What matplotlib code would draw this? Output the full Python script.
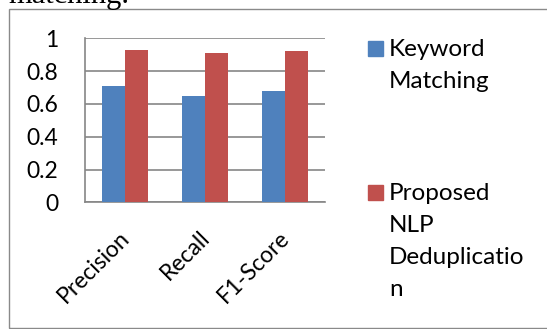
import numpy as np
import matplotlib
matplotlib.use('Agg')
import matplotlib.pyplot as plt
import matplotlib.transforms as mtransforms
from matplotlib.patches import Rectangle

plt.rcParams['font.family'] = ['Lato', 'DejaVu Sans']

categories = ['Precision', 'Recall', 'F1-Score']
keyword = [0.71, 0.65, 0.68]
proposed = [0.93, 0.91, 0.92]
yticks = [0, 0.2, 0.4, 0.6, 0.8, 1]
ytick_labels = ['0', '0.2', '0.4', '0.6', '0.8', '1']
series = [['Keyword', 'Matching'], ['Proposed', 'NLP', 'Deduplicatio', 'n']]
colors = ['#4F81BD', '#C0504D']

W, H = 547, 329
fig = plt.figure(figsize=(W / 100, H / 100), dpi=100)
fig.patch.set_facecolor('white')


def px(x, y):
    # pixel position (from top-left) -> figure fraction
    return x / W, 1 - y / H


# last word of the page text above the chart, cut off by the top edge
fig.text(*px(8, 3), 'matching.', family='Liberation Serif', fontsize=22,
         va='baseline', ha='left', color='black')

# chart border
fig.add_artist(Rectangle(px(9, 328), 1.2, 1 - 10 / H, transform=fig.transFigure,
                         fill=False, ec='#8a8a8a', lw=1.0))

ax = fig.add_axes([85 / W, 1 - 202.3 / H, 240 / W, 164 / H])
x = np.arange(len(categories))
bw = 0.2857
ax.bar(x - bw / 2, keyword, bw, color=colors[0], zorder=3)
ax.bar(x + bw / 2, proposed, bw, color=colors[1], zorder=3)
ax.set_xlim(-0.5, len(categories) - 0.5)
ax.set_ylim(0, 1)
ax.set_yticks(yticks)
ax.set_yticklabels(ytick_labels, fontsize=16.5)
ax.tick_params(axis='y', length=0, pad=19)
ax.yaxis.grid(True, color='#868686', lw=1.2, zorder=0)
ax.set_xticks(x)
ax.set_xticklabels(categories, fontsize=16.5, rotation=45, ha='right', va='top',
                   rotation_mode='anchor')
ax.tick_params(axis='x', length=0, pad=18)
shift = mtransforms.ScaledTranslation(-6 / 100, 0, fig.dpi_scale_trans)
for lab in ax.get_xticklabels():
    lab.set_transform(lab.get_transform() + shift)
for s in ['top', 'right']:
    ax.spines[s].set_visible(False)
for s in ['left', 'bottom']:
    ax.spines[s].set_color('#868686')
    ax.spines[s].set_linewidth(1.2)

# legend, laid out like the spreadsheet's vertical legend
fs = 17.5
step = 32
for lines, c, ybase in zip(series, colors, [56, 200]):
    fig.add_artist(Rectangle(px(368, ybase), 15 / W, 15 / H, transform=fig.transFigure,
                             color=c))
    for i, line in enumerate(lines):
        fig.text(*px(389, ybase + i * step), line, fontsize=fs, va='baseline', ha='left')

fig.savefig('out.png', dpi=100)
